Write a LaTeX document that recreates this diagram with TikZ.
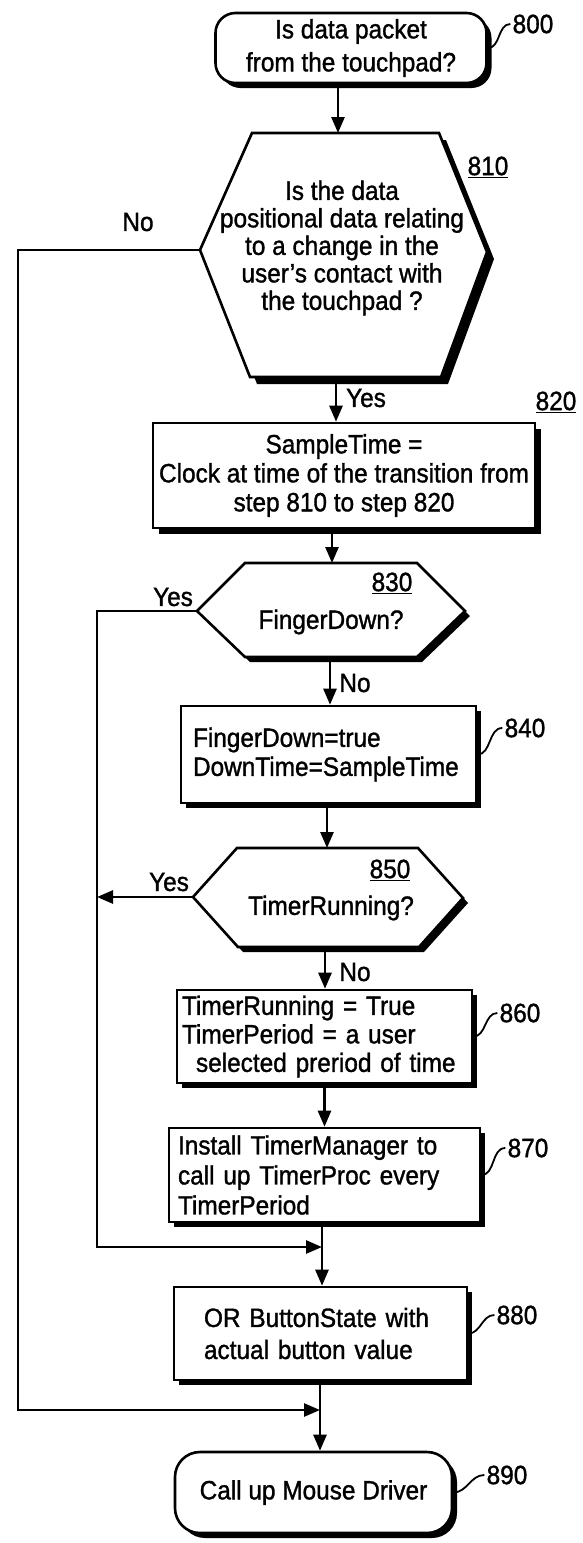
\documentclass[tikz,border=0pt]{standalone}
\usepackage{fontspec}
\setmainfont{Liberation Sans}[FakeStretch=0.92,FakeBold=1.2]
\usetikzlibrary{arrows.meta,shadows}

\tikzset{
  arr/.style={-{Triangle[length=16pt,width=13pt]}},
  shadowed/.style={drop shadow={shadow xshift=#1,shadow yshift=-#1,fill=black,opacity=1}},
  shadowed/.default=5pt,
  stepbox/.style={draw,fill=white,shadowed=#1,inner ysep=0pt},
  stepbox/.default=5pt,
  hexa/.style={draw,fill=white,shadowed=#1},
  hexa/.default=5pt,
  squig/.style={line width=1.8pt},
  refnum/.style={inner sep=1pt}
}

\begin{document}
\begin{tikzpicture}
  [x=1pt,y=-1pt,line width=2.6pt,font=\fontsize{26.5}{29}\selectfont]
  \useasboundingbox (0,0) rectangle (582,1543);
  \coordinate (op) at (18,0);
  \coordinate (lp) at (97,0);

  % 800
  \node[stepbox,rounded corners=20pt,minimum width=271pt,minimum height=70pt,align=center] (n800) at (351,48) {Is data packet\\[4pt]from the touchpad?};
  \node[refnum] (l800) at (533,24) {800};
  \draw[squig] (n800.east) to[out=0,in=180] (l800.west);

  % 810
  \draw[hexa=7pt] (252,133) -- (439,133) -- (487,252) -- (441,377) -- (250,377) -- (200,250) -- cycle;
  \coordinate (h810t) at (338,133);
  \coordinate (h810b) at (336,377);
  \coordinate (h810l) at (200,250);
  \node[align=center,font=\fontsize{26.5}{27.5}\selectfont] (n810) at (342,248) {Is the data\\positional data relating\\to a change in the\\user's contact with\\the touchpad ?};
  \node[refnum] (l810) at (488,167) {\underline{810}};
  \draw[arr] (h810t |- n800.south) -- (h810t);
  \node (no810) at (138,222) {No};

  % 820
  \node[stepbox=6pt,minimum width=382pt,minimum height=105pt,inner xsep=0pt,align=center] (n820) at (344,475.5) {SampleTime =\\Clock at time of the transition from\\step 810 to step 820};
  \node[refnum] (l820) at (556,402) {\underline{820}};
  \draw[arr] (h810b) -- (h810b |- n820.north);
  \node (yes810) at (366,398) {Yes};

  % 830
  \draw[hexa] (245,563) -- (417,563) -- (465,611) -- (417,657) -- (245,657) -- (197,611) -- cycle;
  \coordinate (h830t) at (332,563);
  \coordinate (h830b) at (330,657);
  \coordinate (h830l) at (197,611);
  \node (n830) at (331,622) {FingerDown?};
  \node[refnum] (l830) at (392,583) {\underline{830}};
  \draw[arr] (h830t |- n820.south) -- (h830t);
  \node (yes830) at (173,597) {Yes};

  % 840
  \node[stepbox,minimum height=97pt,inner xsep=12pt,text width=271pt,align=left] (n840) at (328.5,754.5) {FingerDown=true\\DownTime=SampleTime};
  \node[refnum] (l840) at (525,728) {840};
  \draw[squig] (n840.east) to[out=0,in=180] (l840.west);
  \draw[arr] (h830b) -- (h830b |- n840.north);
  \node (no830) at (355,683) {No};

  % 850
  \draw[hexa] (237,848) -- (418,848) -- (463,898) -- (419,947) -- (238,947) -- (193,897) -- cycle;
  \coordinate (h850t) at (327,848);
  \coordinate (h850b) at (325,947);
  \coordinate (h850l) at (193,897);
  \node (n850) at (331,908) {TimerRunning?};
  \node[refnum] (l850) at (390,870) {\underline{850}};
  \draw[arr] (h850t |- n840.south) -- (h850t);
  \draw[arr] (h850l) -- (lp |- h850l);
  \node (yes850) at (169,882) {Yes};

  % 860
  \node[stepbox,minimum height=93pt,inner xsep=5pt,text width=285pt,align=left,font=\fontsize{26.5}{28.5}\selectfont] (n860) at (324.5,1036.5) {TimerRunning = True\\TimerPeriod = a user\\\hspace*{14pt}selected preriod of time};
  \node[refnum] (l860) at (520,1013) {860};
  \draw[squig] (n860.east) to[out=0,in=180] (l860.west);
  \draw[arr] (h850b) -- (h850b |- n860.north);
  \node (no850) at (355,972) {No};

  % 870
  \node[stepbox,minimum height=94pt,inner xsep=9pt,text width=293pt,align=left,font=\fontsize{26.5}{30}\selectfont] (n870) at (324.5,1175) {Install TimerManager to\\call up TimerProc every\\TimerPeriod};
  \node[refnum] (l870) at (528,1148) {870};
  \draw[squig] (n870.east) to[out=0,in=180] (l870.west);
  \draw[arr] (n860) -- (n870);

  % 880
  \coordinate (m1) at (322,1247);
  \node[stepbox,minimum height=93pt,inner xsep=30pt,text width=233pt,align=left] (n880) at (320.5,1333.5) {OR ButtonState with\\[3pt]actual button value};
  \node[refnum] (l880) at (517,1315) {880};
  \draw[squig] (n880.east) to[out=0,in=180] (l880.west);
  \draw (m1 |- n870.south) -- (m1);
  \draw[arr] (m1) -- (m1 |- n880.north);
  \draw[arr] (h830l) -| (lp |- m1) -- (m1);

  % 890
  \coordinate (m2) at (320,1410);
  \node[stepbox,rounded corners=25pt,minimum width=277pt,minimum height=81pt] (n890) at (313.5,1492.5) {Call up Mouse Driver};
  \node[refnum] (l890) at (507,1475) {890};
  \draw[squig] (n890.east) to[out=0,in=180] (l890.west);
  \draw (m2 |- n880.south) -- (m2);
  \draw[arr] (m2) -- (m2 |- n890.north);
  \draw[arr] (h810l) -| (op |- m2) -- (m2);
\end{tikzpicture}
\end{document}
